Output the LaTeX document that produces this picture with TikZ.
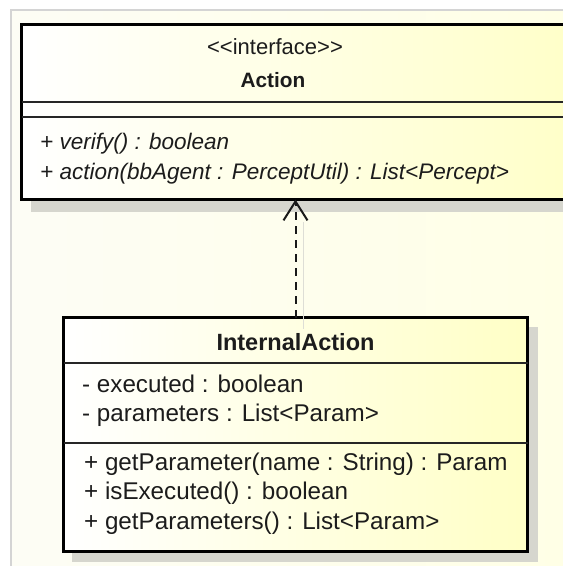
\documentclass[tikz,border=0pt]{standalone}
\usepackage{fontspec}
\setmainfont{Liberation Sans}
\usetikzlibrary{arrows.meta}
\definecolor{bgcream}{RGB}{253,253,245}
\definecolor{bgyellow}{RGB}{255,255,230}
\definecolor{framegray}{RGB}{212,212,212}
\definecolor{boxyellow}{RGB}{255,255,198}
\definecolor{shadowgray}{RGB}{214,214,206}
\definecolor{inkc}{RGB}{28,28,28}
\definecolor{ghostc}{RGB}{222,222,214}

\begin{document}
\begin{tikzpicture}[x=1pt,y=-1pt,
  classbox/.style={draw=black, line width=3pt, left color=white, right color=boxyellow,
                   inner sep=0pt, outer sep=0pt},
  sepline/.style={draw=black!85, line width=1.4pt},
  txt/.style={inner sep=0pt, text=inkc, font=\fontsize{24.2}{29}\selectfont},
  member/.style={txt, anchor=mid west},
  opmember/.style={member, font=\fontsize{22.5}{27}\selectfont\itshape},
  realizes/.style={draw=black!90, line width=2pt, dash pattern=on 8pt off 6pt,
                   -{Straight Barb[length=19pt,width=24pt,line width=2pt]}},
]
\useasboundingbox (0,0) rectangle (563,566);
\clip (0,0) rectangle (563,566);

% canvas and its frame
\fill[white] (0,0) rectangle (563,566);
\shade[left color=bgcream, right color=bgyellow] (11,10) rectangle (563,566);
\draw[framegray, line width=2pt] (11,566) -- (11,10) -- (563,10);

% drop shadows
\fill[shadowgray] (31,190) rectangle (600,212);
\fill[shadowgray] (72,327) rectangle (538,562);

% interface Action
\node[classbox, minimum width=578.5pt, minimum height=175pt] (act) at (310.75,112) {};
\draw[sepline] (act.west |- 0,102) -- (act.east |- 0,102);
\draw[sepline] (act.west |- 0,117) -- (act.east |- 0,117);
\node[txt, font=\fontsize{22}{27}\selectfont] (actst) at (275,47) {{<}{<}interface{>}{>}};
\node[txt, font=\fontsize{20.8}{25}\selectfont\bfseries] (actname) at (273,80) {Action};
\node[opmember] (m1) at (40,147) {+ verify() : boolean};
\node[opmember] (m2) at (40,177) {+ action(bbAgent : PerceptUtil) : List<Percept>};

% class InternalAction
\node[classbox, minimum width=464pt, minimum height=234pt] (ia) at (295.5,434.5) {};
\draw[sepline] (ia.west |- 0,363) -- (ia.east |- 0,363);
\draw[sepline] (ia.west |- 0,443) -- (ia.east |- 0,443);
\node[txt, font=\fontsize{23.5}{28}\selectfont\bfseries] (ianame) at (295.5,342) {InternalAction};
\node[member] (a1) at (82,390) {- executed : boolean};
\node[member] (a2) at (82,419) {- parameters : List<Param>};
\node[member] (o1) at (84,468) {+ getParameter(name : String) : Param};
\node[member] (o2) at (84,497) {+ isExecuted() : boolean};
\node[member] (o3) at (84,527) {+ getParameters() : List<Param>};

% realization of the interface
\draw[ghostc, line width=1pt] ([xshift=8pt]ia.north |- 0,222) -- ([xshift=8pt,yshift=-11pt]ia.north);
\draw[realizes] (ia.north) -- (ia.north |- act.south);
\end{tikzpicture}
\end{document}
